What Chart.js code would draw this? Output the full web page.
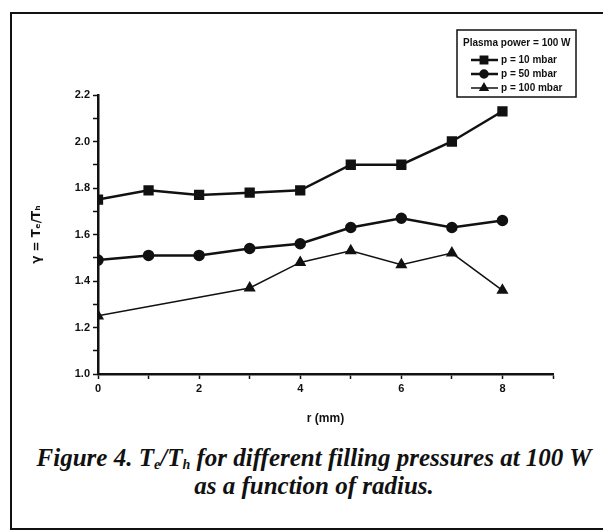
<!DOCTYPE html>
<html>
<head>
<meta charset="utf-8">
<script src="https://cdn.jsdelivr.net/npm/chart.js@4.4.0/dist/chart.umd.min.js"></script>
<style>
    body { margin: 0; background: #fff; }
    #wrap { position: relative; width: 603px; height: 530px; overflow: hidden; }
    #frame { position: absolute; left: 10px; top: 12px; width: 600px; height: 514px; border: 2px solid #111; border-right: none; }
    #chart { position: absolute; left: 0; top: 0; }
    #caption {
        position: absolute; left: 20px; top: 444px; width: 588px; text-align: center;
        font-family: 'Liberation Serif', serif; font-style: italic; font-weight: bold; font-size: 25px; line-height: 28px; color: #111;
    }
    #caption sub { font-size: 14px; vertical-align: -3px; line-height: 0; }
</style>
</head>
<body>
<div id="wrap">
    <div id="frame"></div>
    <canvas id="chart" width="603" height="430"></canvas>
    <div id="caption">Figure 4. T<sub>e</sub>/T<sub>h</sub> for different filling pressures at 100 W<br>as a function of radius.</div>
</div>
<script>
// radius values (mm)
const radius = [0, 1, 2, 3, 4, 5, 6, 7, 8];
// gamma = Te/Th for each filling pressure
const p10 = [1.75, 1.79, 1.77, 1.78, 1.79, 1.90, 1.90, 2.00, 2.13];
const p50 = [1.49, 1.51, 1.51, 1.54, 1.56, 1.63, 1.67, 1.63, 1.66];
const p100 = [1.25, null, null, 1.37, 1.48, 1.53, 1.47, 1.52, 1.36];
const seriesLabels = ['p = 10 mbar', 'p = 50 mbar', 'p = 100 mbar'];
const legendTitle = 'Plasma power = 100 W';
const xTickLabels = ['0', '', '2', '', '4', '', '6', '', '8', ''];
const yTickLabels = ['1.0', '', '1.2', '', '1.4', '', '1.6', '', '1.8', '', '2.0', '', '2.2'];

const ink = '#111';
const tickFont = { family: "'Liberation Sans Narrow', 'Liberation Sans', sans-serif", size: 11, weight: 'bold' };

function toPoints(vals) {
    return radius.map((r, i) => ({ x: r, y: vals[i] }));
}

// legend box drawn into the top padding
const boxLegend = {
    id: 'boxLegend',
    afterDraw(chart) {
        const ctx = chart.ctx;
        ctx.save();
        ctx.strokeStyle = ink;
        ctx.lineWidth = 1.5;
        ctx.strokeRect(457, 30, 119, 67);
        ctx.fillStyle = ink;
        ctx.font = "bold 10px 'Liberation Sans Narrow', sans-serif";
        ctx.textBaseline = 'middle';
        ctx.fillText(legendTitle, 463, 43);
        const rows = [60, 74, 88];
        chart.data.datasets.forEach((ds, i) => {
            const y = rows[i];
            ctx.beginPath();
            ctx.lineWidth = ds.borderWidth;
            ctx.moveTo(471, y);
            ctx.lineTo(498, y);
            ctx.stroke();
            Chart.helpers.drawPoint(ctx, { pointStyle: ds.pointStyle, radius: ds.pointRadius - 1, borderWidth: 1 }, 484, y);
            ctx.fill();
            ctx.fillText(ds.label, 501, y);
        });
        ctx.restore();
    }
};

new Chart(document.getElementById('chart'), {
    type: 'line',
    data: {
        datasets: [
            { label: seriesLabels[0], data: toPoints(p10), borderColor: ink, backgroundColor: ink, borderWidth: 2.5, pointStyle: 'rect', pointRadius: 5.5 },
            { label: seriesLabels[1], data: toPoints(p50), borderColor: ink, backgroundColor: ink, borderWidth: 2.5, pointStyle: 'circle', pointRadius: 4.5 },
            { label: seriesLabels[2], data: toPoints(p100), borderColor: ink, backgroundColor: ink, borderWidth: 1.5, pointStyle: 'triangle', pointRadius: 5.5, spanGaps: true }
        ]
    },
    options: {
        responsive: false,
        animation: false,
        layout: { padding: { left: 12, top: 95, right: 50, bottom: 0 } },
        plugins: { legend: { display: false }, tooltip: { enabled: false } },
        scales: {
            x: {
                type: 'linear', min: 0, max: 9,
                border: { color: ink, width: 2.5 },
                grid: { drawOnChartArea: false, tickLength: 5, color: ink, tickWidth: 1.5 },
                ticks: { stepSize: 1, autoSkip: false, maxRotation: 0, color: ink, font: tickFont, padding: 3,
                    callback: (v, i) => xTickLabels[i] },
                title: { display: true, text: 'r (mm)', color: ink, font: { family: "'Liberation Sans', sans-serif", size: 12, weight: 'bold' }, padding: { top: 6 } },
                afterFit: (s) => { s.height = 56; }
            },
            y: {
                min: 1.0, max: 2.2,
                border: { color: ink, width: 2.5 },
                grid: { drawOnChartArea: false, tickLength: 5, color: ink, tickWidth: 1.5 },
                ticks: { stepSize: 0.1, autoSkip: false, color: ink, font: tickFont, padding: 3,
                    callback: (v, i) => yTickLabels[i] },
                title: { display: true, text: 'γ = Tₑ/Tₕ', color: ink, font: { family: "'DejaVu Sans', sans-serif", size: 12, weight: 'bold' }, padding: { top: 18, bottom: 0 } },
                afterFit: (s) => { s.width = 86; }
            }
        }
    },
    plugins: [boxLegend]
});
</script>
</body>
</html>
